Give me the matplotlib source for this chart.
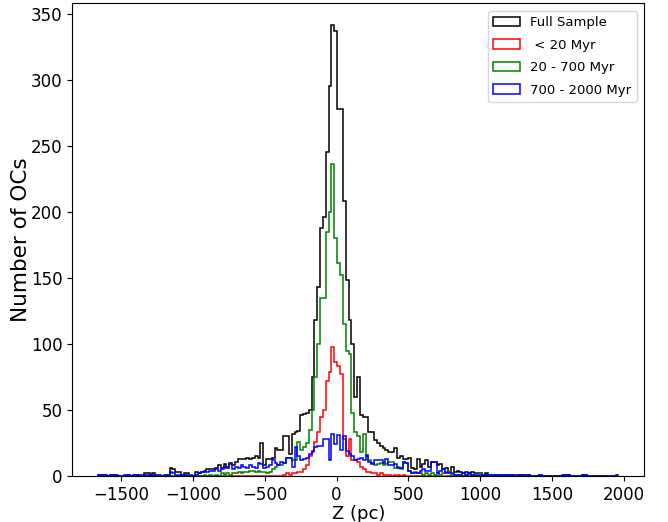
import numpy as np
import matplotlib
matplotlib.use("Agg")
import matplotlib.pyplot as plt

# histogram range (pc) and number of bins
z_min = -1659
z_max = 1964
n_bins = 183

# counts per bin
full_sample = [
    1, 1, 1, 0, 1, 1, 1, 0, 0,
    1, 1, 0, 1, 1, 1, 1, 2, 2, 1,
    2, 1, 1, 0, 1, 1, 6, 5, 3, 3,
    1, 2, 2, 1, 0, 3, 2, 3, 4, 5,
    5, 5, 6, 8, 6, 9, 7, 10, 8, 11,
    13, 13, 13, 14, 13, 14, 15, 14, 25, 8,
    13, 13, 14, 21, 20, 20, 30, 30, 17, 32,
    33, 34, 46, 47, 48, 50, 75, 118, 143, 188,
    196, 245, 295, 341, 337, 278, 278, 208, 148, 118,
    100, 60, 75, 46, 45, 45, 33, 33, 27, 25,
    23, 21, 20, 18, 18, 21, 14, 15, 13, 13,
    14, 6, 5, 13, 7, 9, 12, 7, 11, 11,
    8, 9, 5, 6, 3, 7, 3, 4, 3, 2,
    3, 2, 3, 2, 2, 2, 1, 2, 1, 1,
    1, 1, 1, 1, 1, 1, 1, 1, 1, 1,
    1, 1, 1, 0, 0, 0, 1, 0, 0, 0,
    0, 0, 0, 0, 1, 1, 1, 0, 0, 0,
    0, 1, 1, 0, 0, 0, 0, 0, 0, 0,
    0, 0, 0, 1,
]

young = [0] * 59 + [
    0, 0, 0, 0, 0, 0, 1, 2, 1, 2,
    2, 3, 3, 5, 8, 15, 18, 26, 33, 45,
    50, 72, 79, 98, 86, 83, 77, 28, 15, 28,
    12, 12, 11, 7, 5, 3, 3, 2, 2, 1,
    2, 1, 1, 1, 0, 1, 1, 0, 1, 0,
] + [0] * 74

intermediate = [
    0, 0, 0, 0, 0, 0, 0, 0, 0,
    0, 0, 0, 0, 0, 0, 0, 0, 0, 0,
    0, 0, 0, 0, 0, 1, 0, 0, 0, 0,
    0, 1, 0, 1, 0, 0, 0, 0, 1, 0,
    1, 0, 1, 0, 2, 1, 2, 1, 2, 2,
    3, 2, 3, 3, 4, 4, 3, 4, 3, 3,
    2, 3, 5, 7, 8, 8, 10, 14, 14, 12,
    12, 26, 20, 22, 25, 35, 50, 75, 100, 135,
    135, 185, 200, 236, 180, 161, 152, 115, 95, 92,
    48, 33, 30, 18, 32, 15, 12, 10, 8, 9,
    10, 8, 9, 11, 11, 6, 7, 5, 11, 10,
    4, 2, 3, 2, 2, 1, 2, 1, 2, 1,
    2, 1, 2, 3, 3, 1, 1, 1, 1, 0,
    1, 1, 1, 0, 1, 2, 1, 1, 0, 0,
    1, 0, 0, 0, 0, 1, 0, 0, 0, 0,
    0, 1, 1, 0, 0, 0, 0, 0, 0, 0,
] + [0] * 24

old = [
    1, 1, 1, 0, 1, 1, 0, 0, 0,
    0, 1, 0, 1, 1, 0, 0, 1, 1, 0,
    1, 0, 0, 0, 0, 1, 3, 2, 1, 1,
    0, 1, 0, 0, 0, 1, 2, 3, 3, 3,
    4, 4, 5, 4, 5, 7, 6, 9, 5, 7,
    6, 8, 7, 6, 8, 7, 6, 10, 9, 6,
    7, 8, 12, 10, 8, 11, 10, 14, 14, 7,
    22, 15, 12, 13, 14, 17, 19, 22, 23, 23,
    28, 28, 12, 32, 24, 31, 20, 30, 19, 17,
    15, 12, 13, 14, 12, 16, 11, 9, 12, 12,
    12, 10, 13, 8, 8, 9, 6, 6, 11, 10,
    4, 2, 2, 2, 4, 5, 4, 4, 11, 11,
    2, 4, 5, 2, 2, 2, 1, 1, 1, 2,
    1, 2, 1, 1, 0, 1, 1, 1, 1, 1,
    1, 0, 1, 0, 1, 1, 1, 0, 0, 1,
    1, 0, 1, 0, 0, 0, 1, 0, 0, 0,
    0, 0, 0, 0, 0, 1, 1, 0, 0, 0,
    0, 1, 1, 0, 0, 0, 0, 0, 0, 0,
    0, 0, 0, 0,
]

labels = ['Full Sample', ' < 20 Myr', '20 - 700 Myr', '700 - 2000 Myr']
colors = ['black', 'red', 'green', 'blue']

edges = np.linspace(z_min, z_max, n_bins + 1)
centers = 0.5 * (edges[:-1] + edges[1:])

fig = plt.figure(figsize=(6.68, 5.22), dpi=100)
ax = fig.add_axes([0.1085, 0.088, 0.8563, 0.9065])

for counts, lab, col in zip([full_sample, young, intermediate, old], labels, colors):
    ax.hist(centers, bins=edges, weights=counts, histtype='step',
            color=col, label=lab, linewidth=1.1)

ax.set_xlabel('Z (pc)', fontsize=13, labelpad=1)
ax.set_ylabel('Number of OCs', fontsize=15.5, labelpad=0)
ax.tick_params(labelsize=12)
ax.legend(loc='upper right', fontsize=9.5, labelspacing=0.72,
          borderaxespad=0.6)

fig.savefig('out.png', dpi=100)
